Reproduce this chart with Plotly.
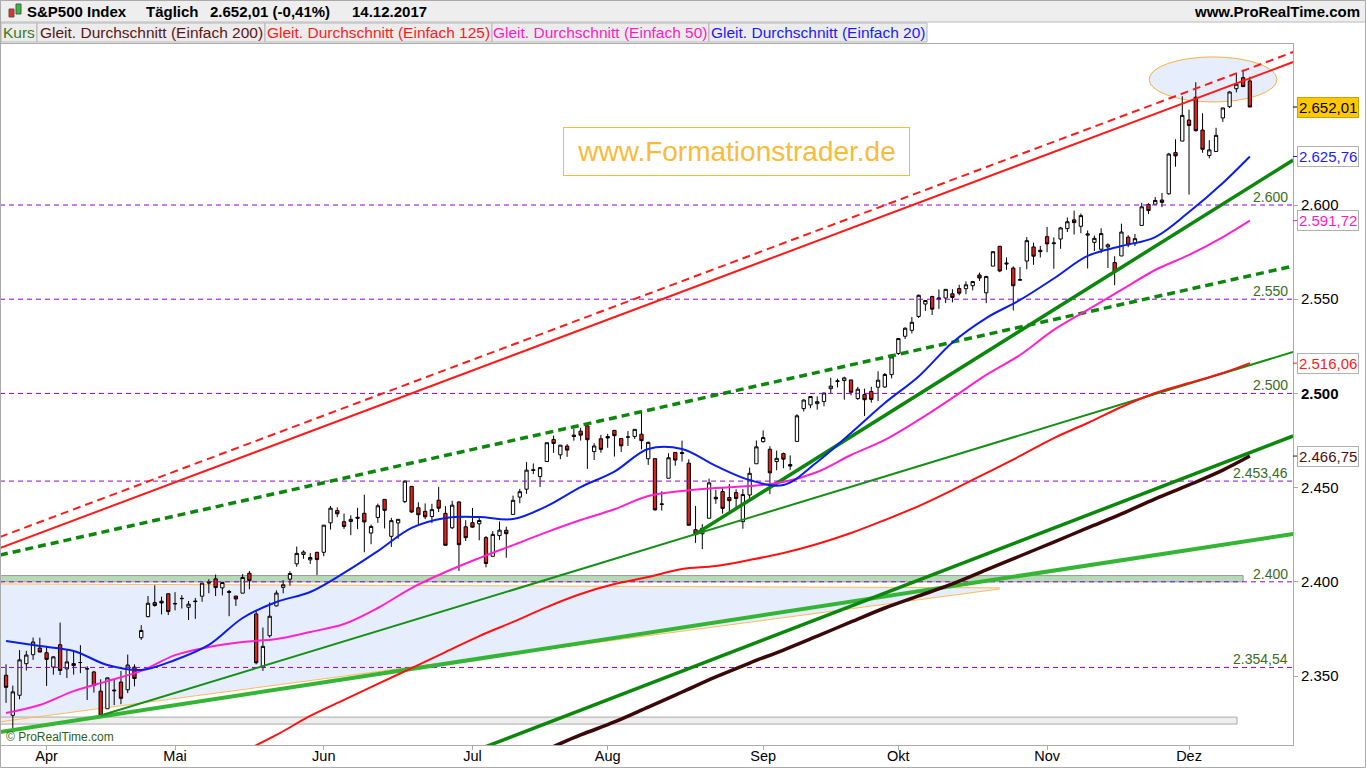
import pandas as pd
import plotly.graph_objects as go

# ---------------- data ----------------
holidays = ["2017-04-14", "2017-05-29", "2017-07-04", "2017-09-04", "2017-11-23"]
dates = [d for d in pd.bdate_range("2017-03-24", "2017-12-14") if d.strftime("%Y-%m-%d") not in holidays]
idx = list(range(len(dates)))

opens = [2350.42, 2329.11, 2339.79, 2356.54, 2361.31, 2364.82, 2362.34, 2354.76, 2366.59, 2353.79,
         2356.59, 2357.16, 2353.92, 2352.15, 2341.98, 2332.62, 2342.53, 2346.79, 2342.69, 2354.74,
         2370.33, 2381.51, 2388.98, 2389.70, 2393.68, 2388.50, 2391.05, 2386.50, 2389.79, 2392.37,
         2399.94, 2401.58, 2396.79, 2394.84, 2392.44, 2393.98, 2404.55, 2382.95, 2354.69, 2371.37,
         2387.21, 2397.04, 2401.41, 2409.54, 2414.50, 2411.67, 2415.63, 2415.65, 2431.28, 2437.83,
         2431.92, 2432.03, 2434.27, 2436.39, 2425.88, 2434.15, 2443.75, 2424.14, 2431.24, 2442.55,
         2450.66, 2439.31, 2437.40, 2434.65, 2443.32, 2436.34, 2428.70, 2442.38, 2429.20, 2431.39,
         2430.78, 2423.44, 2413.52, 2424.51, 2427.35, 2435.75, 2444.99, 2449.16, 2459.50, 2455.88,
         2463.85, 2475.56, 2467.40, 2472.04, 2477.88, 2479.97, 2482.76, 2469.12, 2475.94, 2477.10,
         2480.38, 2476.03, 2476.88, 2477.14, 2478.35, 2465.35, 2465.38, 2441.04, 2454.96, 2468.66,
         2468.63, 2462.95, 2427.64, 2425.50, 2433.75, 2444.88, 2447.91, 2444.72, 2447.35, 2431.94,
         2446.06, 2462.65, 2474.42, 2470.35, 2463.83, 2468.06, 2462.25, 2474.52, 2491.94, 2493.89,
         2494.56, 2495.67, 2502.51, 2506.29, 2506.84, 2507.16, 2497.26, 2499.39, 2501.04, 2503.30,
         2503.41, 2509.96, 2521.20, 2530.34, 2533.48, 2540.86, 2547.44, 2551.39, 2549.99, 2550.62,
         2552.88, 2555.66, 2555.57, 2557.17, 2562.87, 2553.39, 2567.56, 2578.08, 2568.66, 2566.52,
         2560.08, 2570.26, 2577.75, 2575.99, 2583.21, 2579.46, 2581.93, 2587.47, 2592.11, 2588.71,
         2584.00, 2580.18, 2576.53, 2577.75, 2569.45, 2572.95, 2582.94, 2579.49, 2589.17, 2600.31,
         2600.42, 2602.66, 2605.94, 2627.82, 2633.93, 2645.10, 2657.19, 2639.78, 2626.24, 2628.38,
         2646.21, 2652.19, 2661.73, 2667.59, 2665.87]
highs = [2356.22, 2344.90, 2363.78, 2363.36, 2370.42, 2370.35, 2365.87, 2360.53, 2378.36, 2364.16,
         2363.76, 2366.37, 2355.22, 2352.72, 2348.26, 2349.14, 2348.35, 2352.63, 2361.37, 2356.18,
         2376.98, 2392.48, 2398.16, 2392.10, 2393.68, 2394.49, 2392.93, 2389.82, 2391.43, 2399.29,
         2401.36, 2403.87, 2399.74, 2395.72, 2392.44, 2404.05, 2405.77, 2384.87, 2375.74, 2389.06,
         2395.46, 2400.85, 2405.58, 2418.71, 2416.68, 2415.26, 2415.99, 2430.06, 2440.23, 2439.55,
         2436.21, 2435.28, 2439.27, 2446.20, 2430.38, 2441.49, 2443.75, 2433.95, 2433.15, 2453.82,
         2450.66, 2442.23, 2441.62, 2441.40, 2450.42, 2440.15, 2442.97, 2442.73, 2432.71, 2439.17,
         2434.90, 2424.28, 2426.92, 2432.00, 2429.30, 2445.76, 2449.32, 2463.54, 2462.82, 2460.92,
         2473.83, 2477.62, 2472.54, 2473.10, 2481.24, 2481.69, 2484.04, 2473.53, 2477.96, 2478.51,
         2480.38, 2476.03, 2480.00, 2480.95, 2490.87, 2474.41, 2465.38, 2448.09, 2468.22, 2468.90,
         2474.93, 2465.02, 2440.27, 2430.58, 2454.77, 2448.91, 2450.39, 2451.95, 2449.12, 2449.19,
         2460.61, 2475.01, 2480.38, 2471.97, 2469.64, 2468.62, 2467.11, 2488.95, 2496.77, 2498.37,
         2498.43, 2500.23, 2508.32, 2507.84, 2508.85, 2507.16, 2503.47, 2502.54, 2503.51, 2511.75,
         2510.81, 2519.44, 2529.23, 2535.13, 2540.53, 2552.51, 2549.41, 2551.82, 2555.23, 2555.24,
         2555.33, 2557.65, 2559.47, 2559.71, 2564.11, 2562.36, 2575.44, 2578.29, 2572.18, 2567.40,
         2567.07, 2582.98, 2580.03, 2578.29, 2588.40, 2582.81, 2588.42, 2593.38, 2597.02, 2595.47,
         2586.50, 2583.81, 2587.66, 2579.66, 2572.84, 2590.09, 2583.96, 2584.64, 2601.19, 2600.94,
         2604.21, 2606.41, 2627.69, 2634.89, 2657.74, 2650.62, 2665.19, 2648.72, 2634.41, 2640.99,
         2651.65, 2660.33, 2669.72, 2671.88, 2668.09]
lows = [2335.74, 2322.25, 2337.63, 2352.94, 2358.58, 2362.60, 2344.73, 2350.72, 2350.52, 2348.90,
        2350.74, 2351.50, 2337.25, 2341.18, 2328.95, 2332.51, 2334.54, 2335.05, 2340.91, 2344.51,
        2369.19, 2381.15, 2386.78, 2382.68, 2382.36, 2384.83, 2385.82, 2379.75, 2380.35, 2389.38,
        2393.92, 2392.44, 2392.79, 2381.74, 2387.19, 2393.94, 2396.05, 2356.21, 2352.72, 2370.43,
        2386.92, 2393.88, 2397.99, 2408.01, 2412.20, 2409.43, 2403.59, 2413.54, 2427.71, 2434.32,
        2428.12, 2424.75, 2427.94, 2415.70, 2419.97, 2431.28, 2428.34, 2418.53, 2422.88, 2441.79,
        2436.60, 2430.74, 2433.27, 2431.11, 2437.03, 2419.38, 2428.02, 2405.70, 2421.65, 2428.69,
        2422.05, 2407.70, 2413.52, 2422.27, 2412.79, 2435.75, 2441.69, 2446.69, 2457.16, 2450.34,
        2463.85, 2468.43, 2465.06, 2466.32, 2474.91, 2474.94, 2459.93, 2464.66, 2468.53, 2471.14,
        2466.48, 2468.85, 2472.08, 2475.88, 2470.32, 2462.08, 2437.75, 2437.85, 2454.96, 2461.61,
        2463.86, 2430.01, 2420.69, 2417.35, 2433.67, 2441.42, 2436.19, 2437.55, 2439.03, 2428.20,
        2443.77, 2462.65, 2473.85, 2446.55, 2459.20, 2460.29, 2459.40, 2474.52, 2490.37, 2492.14,
        2491.35, 2493.16, 2499.92, 2503.19, 2496.67, 2499.00, 2496.54, 2488.03, 2495.12, 2495.91,
        2502.93, 2507.99, 2520.40, 2528.85, 2531.80, 2540.02, 2543.79, 2541.60, 2544.86, 2547.95,
        2548.31, 2552.09, 2552.64, 2554.69, 2559.67, 2547.92, 2567.56, 2564.33, 2565.58, 2544.00,
        2559.80, 2565.94, 2568.25, 2572.15, 2574.92, 2566.17, 2576.77, 2585.66, 2584.35, 2585.02,
        2566.33, 2575.57, 2574.48, 2566.56, 2557.45, 2572.95, 2577.62, 2578.24, 2589.17, 2595.23,
        2600.42, 2598.87, 2605.44, 2620.32, 2633.93, 2605.52, 2639.03, 2627.73, 2624.75, 2628.38,
        2644.10, 2651.47, 2659.78, 2662.85, 2652.01]
closes = [2343.98, 2341.59, 2358.57, 2361.13, 2368.06, 2362.72, 2358.84, 2360.16, 2352.95, 2357.49,
          2355.54, 2357.16, 2353.78, 2344.93, 2328.95, 2349.01, 2342.19, 2338.17, 2355.84, 2348.69,
          2374.15, 2388.61, 2387.45, 2388.77, 2384.20, 2388.33, 2391.17, 2388.13, 2389.52, 2399.29,
          2399.38, 2396.92, 2399.63, 2394.44, 2390.90, 2402.32, 2400.67, 2357.03, 2365.72, 2381.73,
          2394.02, 2398.42, 2404.39, 2415.07, 2415.82, 2412.91, 2411.80, 2430.06, 2439.07, 2436.10,
          2429.33, 2433.14, 2433.79, 2431.77, 2429.39, 2440.35, 2437.92, 2432.46, 2433.15, 2453.46,
          2437.03, 2435.61, 2434.50, 2438.30, 2439.07, 2419.38, 2440.69, 2419.70, 2423.41, 2429.01,
          2432.54, 2409.75, 2425.18, 2427.43, 2425.53, 2443.25, 2447.83, 2459.27, 2459.14, 2460.61,
          2473.83, 2473.45, 2472.54, 2469.91, 2477.13, 2477.83, 2475.42, 2472.10, 2470.30, 2476.35,
          2477.57, 2472.16, 2476.83, 2480.91, 2474.92, 2474.02, 2438.21, 2441.32, 2465.84, 2464.61,
          2468.11, 2430.01, 2425.55, 2428.37, 2452.51, 2444.04, 2438.97, 2443.05, 2444.24, 2446.30,
          2457.59, 2471.65, 2476.55, 2457.85, 2465.54, 2465.10, 2461.43, 2488.11, 2496.48, 2498.37,
          2495.62, 2500.23, 2503.87, 2506.65, 2508.24, 2500.60, 2502.22, 2496.66, 2496.84, 2507.04,
          2510.06, 2519.36, 2529.12, 2534.58, 2537.74, 2552.07, 2549.33, 2544.73, 2550.64, 2555.24,
          2550.93, 2553.17, 2557.64, 2559.36, 2561.26, 2562.10, 2575.21, 2564.98, 2569.13, 2557.15,
          2560.40, 2581.07, 2572.83, 2575.26, 2579.36, 2579.85, 2587.84, 2591.13, 2590.64, 2594.38,
          2584.62, 2582.30, 2584.84, 2578.87, 2564.62, 2585.64, 2578.85, 2582.14, 2599.03, 2597.08,
          2602.42, 2601.42, 2627.04, 2626.07, 2647.58, 2642.22, 2639.44, 2629.57, 2629.27, 2636.98,
          2651.50, 2659.99, 2664.11, 2662.85, 2652.01]

ma_idx = [0, 5, 10, 15, 20, 25, 30, 35, 40, 45, 50, 55, 60, 65, 70, 75, 80, 85, 90, 95,
          100, 105, 110, 115, 120, 125, 130, 135, 140, 145, 150, 155, 160, 165, 170, 175, 180, 184]
sma20 = [2368.6, 2365.9, 2363.3, 2355.8, 2353.2, 2358.5, 2366.5, 2380.8, 2389.3, 2394.6,
         2404.7, 2416.3, 2428.6, 2433.9, 2434.4, 2433.3, 2440.2, 2450.3, 2458.5, 2470.5,
         2470.5, 2461.5, 2454.0, 2451.4, 2463.6, 2479.0, 2494.9, 2509.0, 2527.0, 2540.0,
         2549.6, 2561.0, 2573.0, 2578.2, 2583.0, 2596.3, 2611.7, 2625.76]
sma50 = [2330.4, 2334.6, 2342.0, 2347.3, 2352.7, 2361.1, 2365.4, 2368.0, 2369.6, 2373.4,
         2377.6, 2386.1, 2396.7, 2405.2, 2412.6, 2419.5, 2426.4, 2432.8, 2438.5, 2445.5,
         2448.2, 2449.8, 2450.8, 2453.0, 2458.3, 2467.3, 2475.3, 2485.9, 2497.6, 2509.8,
         2520.4, 2533.7, 2544.3, 2554.9, 2565.5, 2573.5, 2583.0, 2591.72]
sma125_idx = ma_idx[7:]
sma125 = [2309.7, 2318.7, 2328.8, 2337.3, 2345.8, 2354.2, 2362.7, 2371.2, 2378.7, 2386.6,
          2393.5, 2398.8, 2402.5, 2406.8, 2408.4, 2411.6, 2415.3, 2420.1, 2425.9, 2432.8,
          2440.2, 2448.7, 2457.7, 2466.8, 2476.3, 2484.3, 2492.8, 2500.2, 2505.5, 2510.8, 2516.06]
sma200_idx = ma_idx[16:]
sma200 = [2311.0, 2318.7, 2325.6, 2333.5, 2341.5, 2349.5, 2356.9, 2363.8, 2371.2, 2378.7,
          2386.1, 2392.5, 2398.9, 2406.3, 2413.7, 2421.1, 2428.6, 2436.0, 2444.0, 2451.4,
          2459.3, 2466.75]

# trend lines: (session index, price) at both ends
red_line_x, red_line_y = [-0.9, 190.4], [2417.9, 2675.9]
red_dash_x, red_dash_y = [-0.9, 190.4], [2423.8, 2681.2]
green_dash_x, green_dash_y = [-0.9, 190.4], [2414.2, 2567.6]
green_thin_x, green_thin_y = [14, 190.4], [2329.0, 2522.0]
lime_x, lime_y = [-0.9, 190.4], [2320.3, 2425.4]
green_long_x, green_long_y = [68, 190.4], [2308.4, 2477.4]
green_steep_x, green_steep_y = [102, 190.4], [2425.4, 2623.9]
wedge_top_x, wedge_top_y = [-0.9, 147.0], [2398.9, 2396.8]
wedge_bot_x, wedge_bot_y = [-0.9, 147.0], [2325.7, 2396.2]
zone_green = [-0.9, 183.0, 2400.0, 2403.3]
zone_gray = [-0.9, 182.1, 2324.5, 2328.2]
ellipse = [169.1, 188.0, 2654.7, 2678.6]

h_levels = [2600, 2550, 2500, 2453.46, 2400, 2354.54]
h_labels = ["2.600", "2.550", "2.500", "2.453,46", "2.400", "2.354,54"]

box_vals = [2652.01, 2625.76, 2591.72, 2516.06, 2466.75]
box_text = ["2.652,01", "2.625,76", "2.591,72", "2.516,06", "2.466,75"]
box_col = ["#000000", "#1a1aff", "#ff1ac6", "#ff1a1a", "#4a0f0f"]

y_ticks = [2350, 2400, 2450, 2500, 2550, 2600]
y_ticktext = ["2.350", "2.400", "2.450", "<b>2.500</b>", "2.550", "2.600"]
month_names = {4: "Apr", 5: "Mai", 6: "Jun", 7: "Jul", 8: "Aug", 9: "Sep", 10: "Okt", 11: "Nov", 12: "Dez"}

# ---------------- layout geometry ----------------
W, H = 1366, 768
ML, MR, MT, MB = 0, 73, 44, 23
PW, PH = W - ML - MR, H - MT - MB
X_RANGE = [-0.893, 190.38]
Y_RANGE = [2313.38, 2685.46]
FONT = "Liberation Sans, Arial, sans-serif"


def px(x):
    return (x - ML) / PW


def py(y):
    return (H - MB - y) / PH


fig = go.Figure()
shapes = []
annotations = []

# ---- background marks (shapes below the traces) ----
wedge_path = "M {},{} L {},{} L {},{} L {},{} Z".format(
    wedge_top_x[0], wedge_top_y[0], wedge_top_x[1], wedge_top_y[1],
    wedge_bot_x[1], wedge_bot_y[1], wedge_bot_x[0], wedge_bot_y[0])
shapes.append(dict(type="path", xref="x", yref="y", path=wedge_path, fillcolor="#e6edfc",
                   line=dict(width=0), layer="below"))
for z, fc, lc in [(zone_gray, "#eeeeee", "#aaaaaa"), (zone_green, "#b5dbb5", "#9a9a9a")]:
    shapes.append(dict(type="rect", xref="x", yref="y", x0=z[0], x1=z[1], y0=z[2], y1=z[3],
                       fillcolor=fc, line=dict(color=lc, width=1), layer="below"))
for xs, ys in [(wedge_top_x, wedge_top_y), (wedge_bot_x, wedge_bot_y)]:
    shapes.append(dict(type="line", xref="x", yref="y", x0=xs[0], x1=xs[1], y0=ys[0], y1=ys[1],
                       line=dict(color="#ffbb55", width=1), layer="below"))
shapes.append(dict(type="circle", xref="x", yref="y", x0=ellipse[0], x1=ellipse[1], y0=ellipse[2], y1=ellipse[3],
                   fillcolor="rgba(200,215,250,0.45)", line=dict(color="#f5b041", width=1), layer="below"))

# ---- horizontal levels ----
for lv in h_levels:
    fig.add_trace(go.Scatter(x=X_RANGE, y=[lv, lv], mode="lines",
                             line=dict(color="#9400d3", width=1, dash="5px,4px"), hoverinfo="skip"))

# ---- trend lines ----
trend_specs = [
    (lime_x, lime_y, "#35b535", 4, None),
    (green_thin_x, green_thin_y, "#168f16", 2, None),
    (green_long_x, green_long_y, "#0b870b", 3.5, None),
    (green_steep_x, green_steep_y, "#0b870b", 3.5, None),
    (green_dash_x, green_dash_y, "#0b870b", 3.5, "8px,5px"),
    (red_line_x, red_line_y, "#ff1a1a", 2, None),
    (red_dash_x, red_dash_y, "#ff1a1a", 2, "8px,5px"),
]
for xs, ys, c, w, d in trend_specs:
    fig.add_trace(go.Scatter(x=xs, y=ys, mode="lines", line=dict(color=c, width=w, dash=d), hoverinfo="skip"))

# ---- moving averages ----
fig.add_trace(go.Scatter(x=sma200_idx, y=sma200, mode="lines", line=dict(color="#3b0808", width=3.5, shape="spline")))
fig.add_trace(go.Scatter(x=sma125_idx, y=sma125, mode="lines", line=dict(color="#ff1111", width=2, shape="spline")))
fig.add_trace(go.Scatter(x=ma_idx, y=sma50, mode="lines", line=dict(color="#ff22cc", width=2, shape="spline")))
fig.add_trace(go.Scatter(x=ma_idx, y=sma20, mode="lines", line=dict(color="#0a1eea", width=2, shape="spline")))

# ---- candles ----
fig.add_trace(go.Candlestick(
    x=idx, open=opens, high=highs, low=lows, close=closes,
    increasing=dict(fillcolor="#ffffff", line=dict(color="#000000", width=1)),
    decreasing=dict(fillcolor="#e0201b", line=dict(color="#000000", width=1)),
    whiskerwidth=0, hoverinfo="skip"))

# ---- header and legend bars ----
shapes.append(dict(type="rect", xref="paper", yref="paper", x0=px(0), x1=px(W), y0=py(22), y1=py(0),
                   fillcolor="#eeeeee", line=dict(color="#bbbbbb", width=1), layer="below"))
legend_items = [("Kurs", "#3a7a22", 1, 37),
                ("Gleit. Durchschnitt (Einfach 200)", "#5a1515", 37, 265),
                ("Gleit. Durchschnitt (Einfach 125)", "#ff1a1a", 265, 492),
                ("Gleit. Durchschnitt (Einfach 50)", "#ff1ac6", 492, 709),
                ("Gleit. Durchschnitt (Einfach 20)", "#1a1aff", 709, 927)]
for txt, col, a, b in legend_items:
    shapes.append(dict(type="rect", xref="paper", yref="paper", x0=px(a), x1=px(b), y0=py(42), y1=py(23),
                       fillcolor="#ececec", line=dict(color="#b5b5b5", width=1), layer="below"))
    annotations.append(dict(xref="paper", yref="paper", x=px((a + b) / 2), y=py(32.5), text=txt,
                            showarrow=False, font=dict(family=FONT, size=15.5, color=col),
                            xanchor="center", yanchor="middle"))

# small header icon
shapes.append(dict(type="rect", xref="paper", yref="paper", x0=px(9), x1=px(14), y0=py(17), y1=py(9),
                   fillcolor="#e03030", line=dict(color="#555555", width=1)))
shapes.append(dict(type="rect", xref="paper", yref="paper", x0=px(16), x1=px(21), y0=py(14), y1=py(4),
                   fillcolor="#30c030", line=dict(color="#555555", width=1)))

for txt, x0 in [("S&P500 Index", 25), ("Täglich", 144), ("2.652,01 (-0,41%)", 208), ("14.12.2017", 350)]:
    annotations.append(dict(xref="paper", yref="paper", x=px(x0), y=py(11), text="<b>%s</b>" % txt,
                            showarrow=False, font=dict(family=FONT, size=15, color="#000000"),
                            xanchor="left", yanchor="middle"))
annotations.append(dict(xref="paper", yref="paper", x=px(1362), y=py(11), text="<b>www.ProRealTime.com</b>",
                        showarrow=False, font=dict(family=FONT, size=15, color="#000000"),
                        xanchor="right", yanchor="middle"))

# level labels
for lv, lb in zip(h_levels, h_labels):
    annotations.append(dict(xref="paper", yref="y", x=1, y=lv, text=lb, showarrow=False,
                            xanchor="right", yanchor="bottom", xshift=-3, yshift=-2,
                            font=dict(family=FONT, size=14, color="#3a6b1f")))

# price boxes on the right axis
for v, t, c in zip(box_vals, box_text, box_col):
    gold = t == box_text[0]
    annotations.append(dict(xref="paper", yref="y", x=1, y=v, text=t, showarrow=False,
                            xanchor="left", yanchor="middle", xshift=4,
                            font=dict(family=FONT, size=15, color=c),
                            bgcolor="#ffc800" if gold else "#ffffff",
                            bordercolor="#c9a100" if gold else "#b0b0b0", borderwidth=1, borderpad=1))
    shapes.append(dict(type="line", xref="paper", yref="y", x0=1, x1=px(1298), y0=v, y1=v,
                       line=dict(color=c if not gold else "#000000", width=1)))

# watermark
annotations.append(dict(xref="paper", yref="paper", x=px(736.5), y=py(151.5), text="www.Formationstrader.de",
                        showarrow=False, font=dict(family=FONT, size=28, color="#f8bb3a"),
                        bgcolor="#ffffff", bordercolor="#f8bb3a", borderwidth=1, borderpad=2,
                        width=341, height=43, xanchor="center", yanchor="middle"))
annotations.append(dict(xref="paper", yref="paper", x=px(4), y=py(737), text="© ProRealTime.com",
                        showarrow=False, font=dict(family=FONT, size=12, color="#2d5f1a"),
                        xanchor="left", yanchor="middle"))

# outer frame
shapes.append(dict(type="rect", xref="paper", yref="paper", x0=px(0.5), x1=px(W - 0.5), y0=py(H - 0.5), y1=py(0.5),
                   line=dict(color="#aaaaaa", width=1)))

month_idx = [i for i in idx if i > 0 and dates[i].month != dates[i - 1].month]
month_txt = [month_names[dates[i].month] for i in month_idx]

fig.update_layout(
    width=W, height=H, margin=dict(l=ML, r=MR, t=MT, b=MB, autoexpand=False),
    paper_bgcolor="#ffffff", plot_bgcolor="#ffffff", showlegend=False,
    font=dict(family=FONT, size=15, color="#000000"),
    shapes=shapes, annotations=annotations, hovermode=False,
    xaxis=dict(range=X_RANGE, tickvals=month_idx, ticktext=month_txt, showgrid=False, zeroline=False,
               ticks="outside", ticklen=4, tickcolor="#aaaaaa", showline=True, linecolor="#aaaaaa",
               mirror=True, rangeslider=dict(visible=False), tickfont=dict(size=14.5), automargin=False,
               ticklabelstandoff=-6),
    yaxis=dict(range=Y_RANGE, side="right", tickvals=y_ticks, ticktext=y_ticktext, showgrid=False,
               zeroline=False, ticks="outside", ticklen=4, tickcolor="#aaaaaa", showline=True,
               linecolor="#aaaaaa", mirror=True, tickfont=dict(size=15), automargin=False),
)

fig.write_html("out.html", config={"displayModeBar": False},
               post_script="document.body.style.margin='0px';document.body.style.overflow='hidden';")
